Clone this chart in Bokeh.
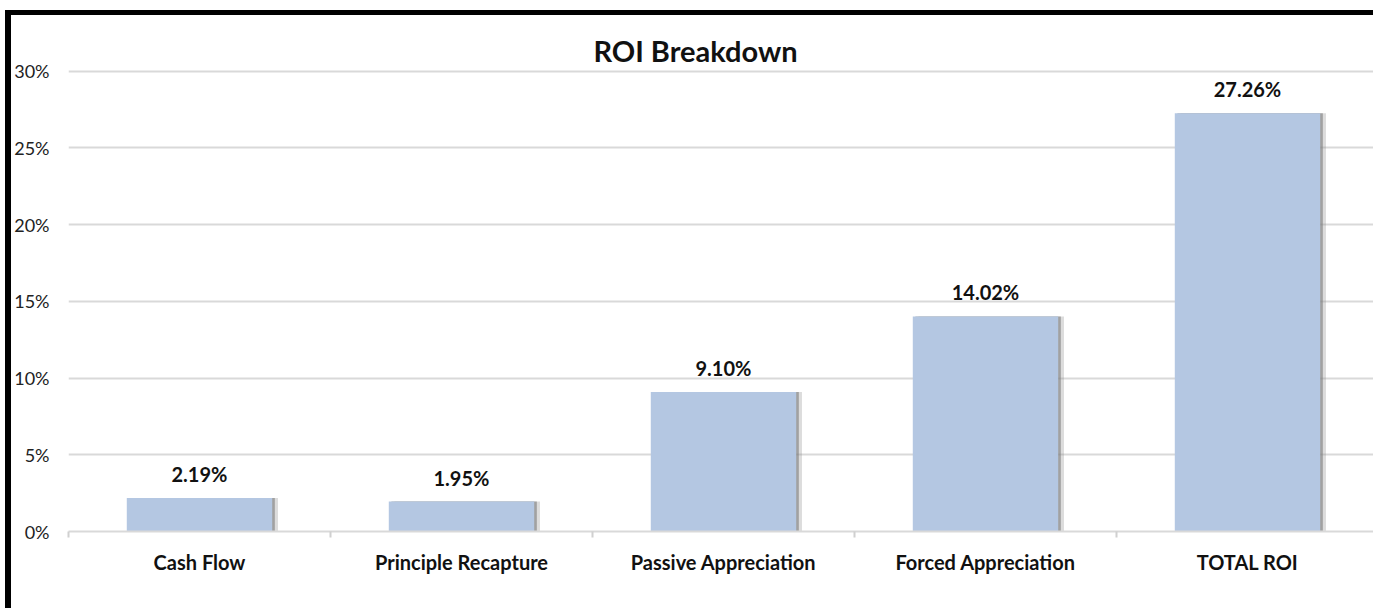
from bokeh.plotting import figure
from bokeh.models import ColumnDataSource, FixedTicker, LabelSet, Label
from bokeh.transform import dodge
from bokeh.core.properties import value
from bokeh.embed import file_html
from bokeh.resources import INLINE

categories = ["Cash Flow", "Principle Recapture", "Passive Appreciation", "Forced Appreciation", "TOTAL ROI"]
roi_pct = [2.19, 1.95, 9.10, 14.02, 27.26]
y_ticks = [0, 5, 10, 15, 20, 25, 30]

xs = [i + 0.5 for i in range(len(categories))]
src = ColumnDataSource(dict(
    x=xs,
    top=roi_pct,
    lab=[f"{v:.2f}%" for v in roi_pct],
))

FONT = "Lato"

p = figure(width=1368, height=598, output_backend="svg", toolbar_location=None,
           x_range=(0, len(categories)), y_range=(0, 33.5),
           min_border_left=56, min_border_right=1, min_border_top=2, min_border_bottom=82,
           background_fill_color="white", border_fill_color="white")
p.styles = {"margin-top": "10px", "margin-left": "5px",
            "border-top": "5px solid black", "border-left": "6px solid black"}
p.outline_line_color = None

# shadows
p.vbar(x=dodge("x", 0.022, range=p.x_range), top="top", width=0.555, bottom=0, source=src,
       fill_color="#8c8c8c", fill_alpha=0.3, line_color=None)
p.vbar(x=dodge("x", 0.01, range=p.x_range), top="top", width=0.555, bottom=0, source=src,
       fill_color="#7a7a7a", fill_alpha=0.6, line_color=None)
p.vbar(x="x", top="top", width=0.555, bottom=0, source=src,
       fill_color="#B4C7E2", line_color=None)

p.add_layout(LabelSet(x="x", y="top", text="lab", source=src, y_offset=16,
                      text_align="center", text_baseline="alphabetic",
                      text_font=value(FONT), text_font_style="bold",
                      text_font_size="20px", text_color="#111111"))

p.add_layout(Label(x=len(categories) / 2, y=30, x_offset=-28, y_offset=21, text="ROI Breakdown",
                   text_align="center", text_baseline="alphabetic",
                   text_font=FONT, text_font_style="bold",
                   text_font_size="29px", text_color="#111111"))

# x axis
p.xaxis.ticker = FixedTicker(ticks=xs, minor_ticks=list(range(len(categories) + 1)))
p.xaxis.major_label_overrides = {x: c for x, c in zip(xs, categories)}
p.xaxis.major_tick_out = 0
p.xaxis.major_tick_in = 0
p.xaxis.minor_tick_out = 6
p.xaxis.minor_tick_in = 0
p.xaxis.minor_tick_line_color = "#D0D0D0"
p.xaxis.minor_tick_line_width = 2
p.xaxis.axis_line_color = "#D9D9D9"
p.xaxis.axis_line_width = 2
p.xaxis.major_label_standoff = 12
p.xaxis.major_label_text_font = FONT
p.xaxis.major_label_text_font_style = "bold"
p.xaxis.major_label_text_font_size = "20px"
p.xaxis.major_label_text_color = "#111111"

# y axis
p.yaxis.ticker = FixedTicker(ticks=y_ticks)
p.yaxis.major_label_overrides = {t: f"{t}%" for t in y_ticks}
p.yaxis.axis_line_color = None
p.yaxis.major_tick_line_color = None
p.yaxis.major_tick_out = 0
p.yaxis.major_tick_in = 0
p.yaxis.minor_tick_line_color = None
p.yaxis.major_label_standoff = 19
p.yaxis.major_label_text_font = FONT
p.yaxis.major_label_text_font_size = "18px"
p.yaxis.major_label_text_color = "#222222"

p.xgrid.grid_line_color = None
p.ygrid.ticker = FixedTicker(ticks=y_ticks[1:])
p.ygrid.grid_line_color = "#D9D9D9"
p.ygrid.grid_line_width = 2

open("out.html", "w").write(file_html(p, INLINE))
